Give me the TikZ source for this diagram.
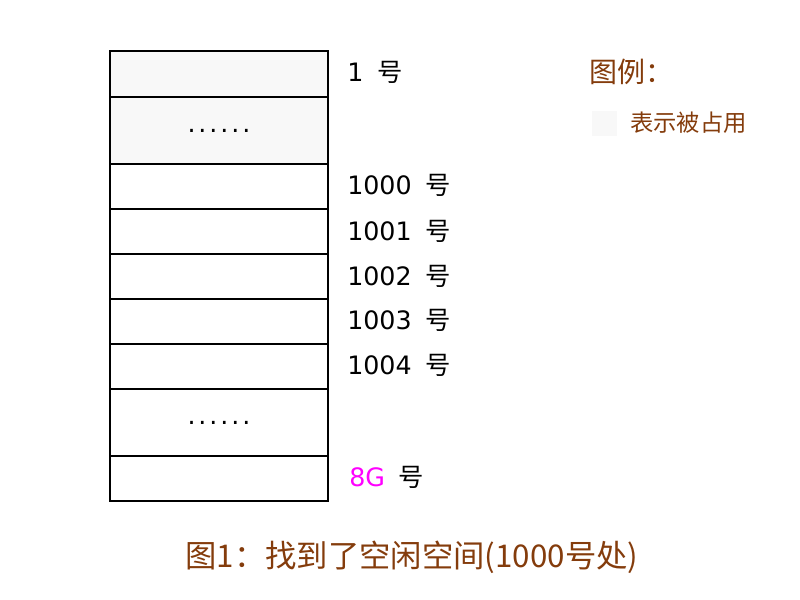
\documentclass[tikz,border=0pt]{standalone}
\usepackage{fontspec}
\setmainfont{Noto Sans CJK SC}
\newfontfamily\digitfont{DejaVu Sans}
\usetikzlibrary{positioning}
\definecolor{notebrown}{HTML}{843C0C}
\definecolor{usedgray}{HTML}{F8F8F8}
\definecolor{bigmag}{HTML}{FF00FF}
\newcommand{\blockno}[1]{{\digitfont #1}\hspace{0.55em}号}
\newcommand{\dotrow}{.\hspace{2.2pt}.\hspace{2.2pt}.\hspace{2.2pt}.\hspace{2.2pt}.\hspace{2.2pt}.}
\tikzset{
  cell/.style={draw, line width=1.5pt, minimum width=163.5pt, inner sep=0pt, anchor=north west},
  used/.style={fill=usedgray},
  skip/.style={font=\fontsize{19}{22}\digitfont},
  addr/.style={anchor=west, inner sep=0pt, font=\fontsize{19}{22}\selectfont},
  note/.style={color=notebrown, inner sep=0pt}
}

\begin{document}
\begin{tikzpicture}[x=0.75pt, y=-0.75pt]
\useasboundingbox (0,0) rectangle (800,600);

% memory blocks
\node[cell, used, minimum height=34.5pt] (b1) at (109,50) {};
\node[cell, used, skip, minimum height=50.25pt] (bdots1) at (109,96) {\dotrow};
\node[cell, minimum height=33.75pt] (b1000) at (109,163) {};
\node[cell, minimum height=33.75pt] (b1001) at (109,208) {};
\node[cell, minimum height=33.75pt] (b1002) at (109,253) {};
\node[cell, minimum height=33.75pt] (b1003) at (109,298) {};
\node[cell, minimum height=33.75pt] (b1004) at (109,343) {};
\node[cell, skip, minimum height=50.25pt] (bdots2) at (109,388) {\dotrow};
\node[cell, minimum height=33.75pt] (blast) at (109,455) {};

% block numbers
\node[addr] (n1) at (347,72) {\blockno{1}};
\node[addr] (n1000) at (347,185) {\blockno{1000}};
\node[addr] (n1001) at (347,231) {\blockno{1001}};
\node[addr] (n1002) at (347,276) {\blockno{1002}};
\node[addr] (n1003) at (347,320) {\blockno{1003}};
\node[addr] (n1004) at (347,365) {\blockno{1004}};
\node[addr] (nlast) at (349,477) {\blockno{\textcolor{bigmag}{8G}}};

% legend
\node[note, anchor=west, font=\fontsize{21}{24}\selectfont] (legend) at (589,72) {图例：};
\node[fill=usedgray, minimum size=18.75pt, inner sep=0pt] (legbox) at (604,123) {};
\node[note, anchor=west, font=\fontsize{17.5}{20}\selectfont] (legtext) at (630,123) {表示被占用};

% caption
\node[note, font=\fontsize{23.5}{28}\selectfont] (caption) at (412,557) {图1：找到了空闲空间(1000号处)};
\end{tikzpicture}
\end{document}
